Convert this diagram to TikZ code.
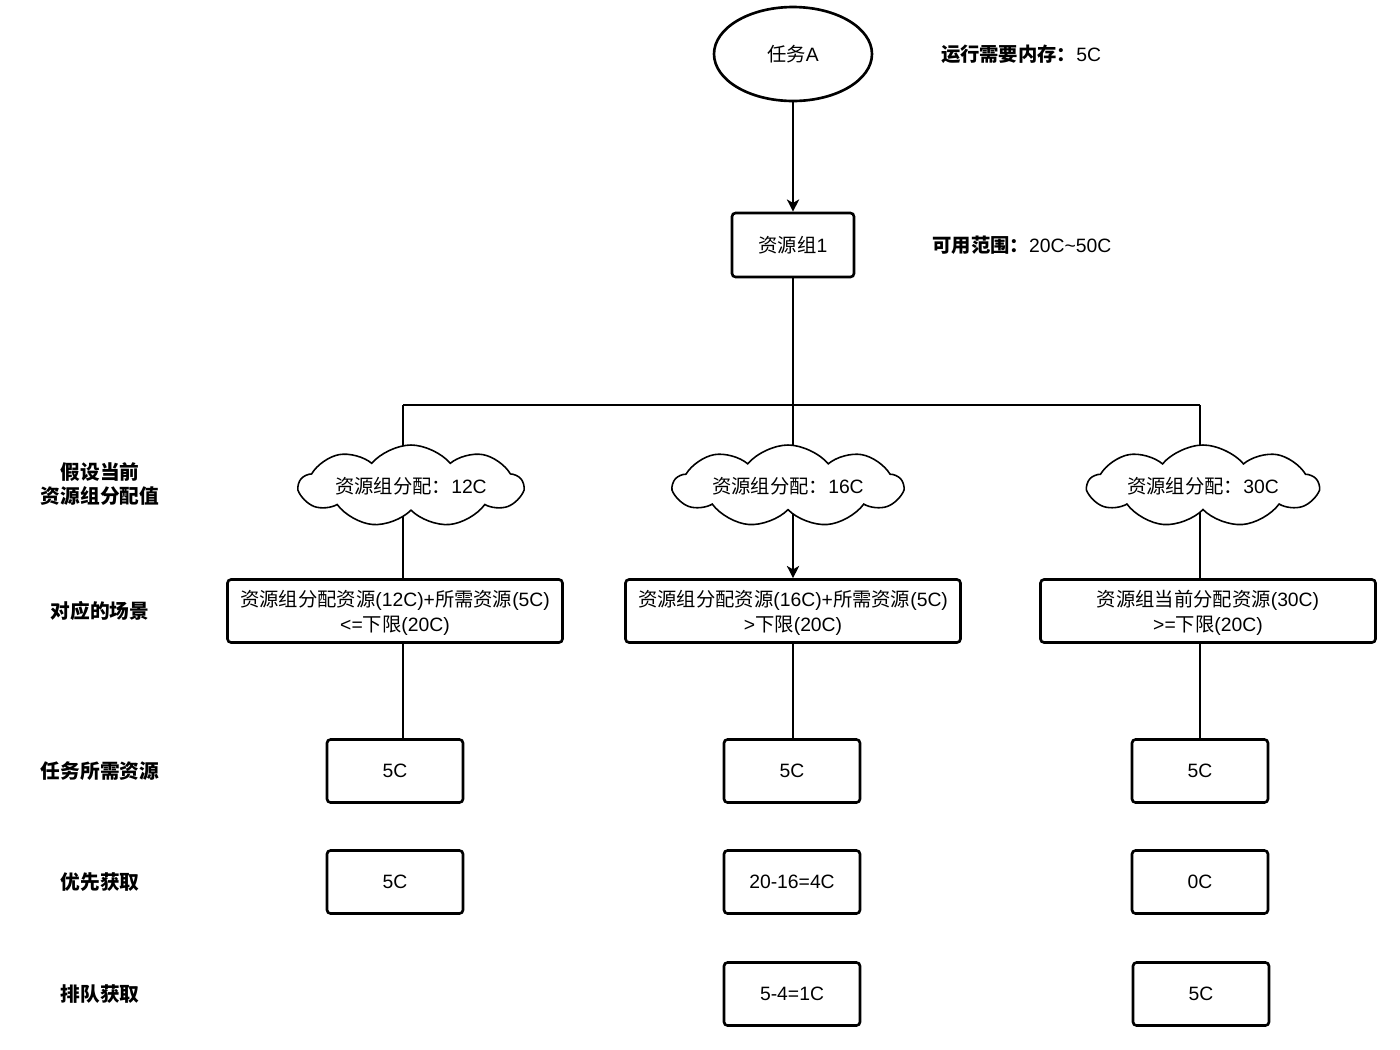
\documentclass[tikz,border=0pt]{standalone}
\usepackage{fontspec}
\setmainfont{Liberation Sans}
\newfontfamily\cjk{Noto Sans CJK SC}
\newcommand{\zh}[1]{{\cjk #1}}
\usetikzlibrary{shapes.geometric,shapes.symbols,arrows.meta,backgrounds}

\tikzset{
  box/.style={draw,line width=1.5pt,rounded corners=2pt,fill=white,align=center,
    minimum height=1.26cm,inner sep=2pt},
  scenebox/.style={box,minimum width=6.7cm,text depth=-1pt},
  valbox/.style={box,minimum width=2.72cm},
  puff/.style={cloud,draw,line width=0.9pt,fill=white,cloud puffs=9,cloud puff arc=100,
    cloud ignores aspect,minimum width=4.36cm,minimum height=1.64cm},
  rowlbl/.style={font=\cjk\bfseries\fontsize{11.2}{13.5}\selectfont,align=center},
  link/.style={line width=0.85pt},
  arr/.style={link,-{Stealth[length=7pt,width=7pt,inset=2pt]}}
}

\begin{document}
\begin{tikzpicture}[x=0.02cm,y=-0.02cm,font=\fontsize{11}{14.2}\selectfont]
\useasboundingbox (0,0) rectangle (1400,1049);

% top part
\node[ellipse,draw,line width=1.5pt,minimum width=3.16cm,minimum height=1.88cm] (taskA) at (793,54) {\zh{任务}A};
\node (needMem) at (1021,54) {\zh{\bfseries 运行需要内存：}5C};
\node[box,minimum width=2.44cm,minimum height=1.28cm] (grp) at (793,245) {\zh{资源组}1};
\node (range) at (1022,245) {\zh{\bfseries 可用范围：}20C\textasciitilde 50C};

% row labels
\node[rowlbl] (lblAssume) at (100,484) {假设当前\\资源组分配值};
\node[rowlbl] (lblScene) at (100,611) {对应的场景};
\node[rowlbl] (lblNeed) at (100,771) {任务所需资源};
\node[rowlbl] (lblFirst) at (100,882) {优先获取};
\node[rowlbl] (lblQueue) at (100,994) {排队获取};

% column positions
\coordinate (busL) at (403,405);
\coordinate (busM) at (793,405);
\coordinate (busR) at (1200,405);

% clouds
\node[puff] (cloudL) at (411,486) {\zh{资源组分配：}12C};
\node[puff,minimum width=4.58cm] (cloudM) at (788,486) {\zh{资源组分配：}16C};
\node[puff,minimum width=4.6cm] (cloudR) at (1203,486) {\zh{资源组分配：}30C};

% scenes
\node[scenebox] (sceneL) at (395,611) {\zh{资源组分配资源}(12C)+\zh{所需资源}(5C)\\<=\zh{下限}(20C)};
\node[scenebox] (sceneM) at (793,611) {\zh{资源组分配资源}(16C)+\zh{所需资源}(5C)\\>\zh{下限}(20C)};
\node[scenebox] (sceneR) at (1208,611) {\zh{资源组当前分配资源}(30C)\\>=\zh{下限}(20C)};

% values
\node[valbox] (needL) at (395,771) {5C};
\node[valbox] (needM) at (792,771) {5C};
\node[valbox] (needR) at (1200,771) {5C};
\node[valbox] (firstL) at (395,882) {5C};
\node[valbox] (firstM) at (792,882) {20-16=4C};
\node[valbox] (firstR) at (1200,882) {0C};
\node[valbox] (queueM) at (792,994) {5-4=1C};
\node[valbox] (queueR) at (1201,994) {5C};

% connectors
\draw[arr] (taskA) -- (grp);
\begin{scope}[on background layer]
\draw[link] (grp.south) -- (busM);
\draw[link] (busL) -- (busR);
\draw[link] (busL) -- (busL |- sceneL.north);
\draw[link] (busM) -- (busM |- cloudM.center);
\draw[arr] (busM |- cloudM.center) -- (busM |- sceneM.north);
\draw[link] (busR) -- (busR |- sceneR.north);
\end{scope}
\draw[link] (busL |- sceneL.south) -- (busL |- needL.north);
\draw[link] (busM |- sceneM.south) -- (busM |- needM.north);
\draw[link] (busR |- sceneR.south) -- (busR |- needR.north);
\end{tikzpicture}
\end{document}
